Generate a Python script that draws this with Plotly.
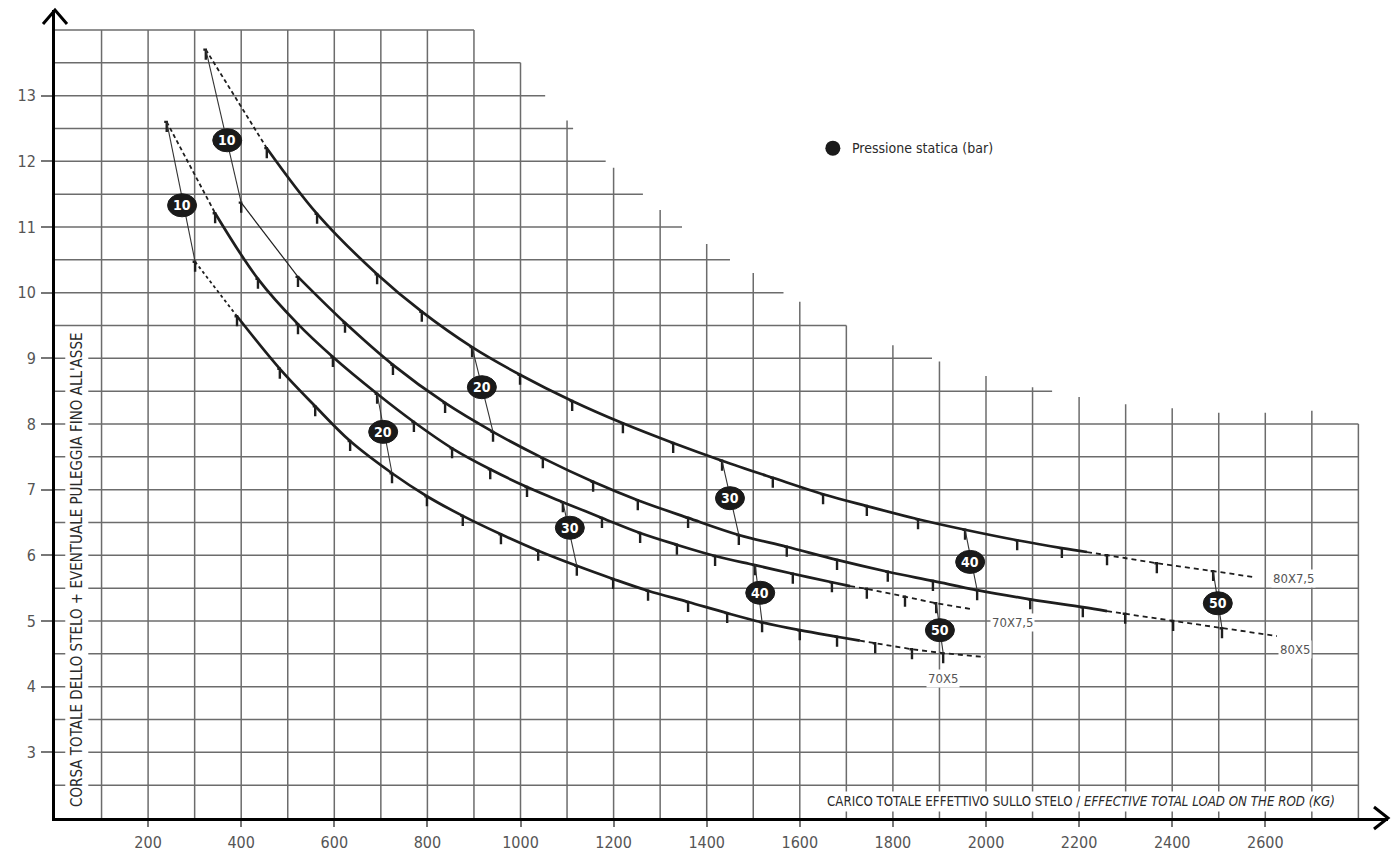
import plotly.graph_objects as go

# ---------------- data ----------------
# grid: vertical lines (kg) and the height (m) at which each one stops
GRID_X_KG = list(range(100, 2800, 100))
GRID_X_TOP_M = [14] * 9 + [13.5, 12.62, 11.9, 11.26, 10.74, 10.3, 9.86, 9.5, 9.2,
                           8.95, 8.73, 8.56, 8.41, 8.3, 8.24, 8.17, 8.17, 8.2]
GRID_BORDER_KG = 2800
GRID_BORDER_TOP_M = 8.0
# horizontal lines (m) and the load (kg) at which each one stops
GRID_Y_M = [2.5 + 0.5 * i for i in range(24)]
GRID_Y_END_KG = [2800] * 12 + [2142, 1884, 1700, 1565, 1450, 1347, 1263, 1183, 1113, 1053, 1000, 900]

X_TICKS = list(range(200, 2601, 200))
Y_TICKS = list(range(3, 14))

BAR = list(range(10, 51, 2))   # static pressure marks every 2 bar

C80X75_KG = [324, 455, 563, 692, 788, 896, 999, 1111, 1220, 1328, 1433, 1542, 1650, 1744, 1854,
             1955, 2067, 2163, 2260, 2367, 2488]
C80X75_M = [13.70, 12.20, 11.20, 10.28, 9.71, 9.17, 8.75, 8.35, 8.01, 7.71, 7.44, 7.18, 6.93, 6.75,
            6.55, 6.39, 6.23, 6.11, 6.00, 5.88, 5.76]
C80X75_SOLID_END = (2217, 6.05)
C80X75_LINE_END = (2574, 5.67)

C80X5_KG = [400, 522, 623, 726, 838, 941, 1048, 1156, 1252, 1360, 1469, 1572, 1680, 1789, 1886,
            1981, 2095, 2208, 2299, 2402, 2507]
C80X5_M = [11.37, 10.24, 9.54, 8.90, 8.32, 7.88, 7.48, 7.12, 6.84, 6.57, 6.31, 6.13, 5.93, 5.75,
           5.61, 5.47, 5.33, 5.21, 5.11, 5.00, 4.89]
C80X5_SOLID_END = (2260, 5.15)
C80X5_LINE_END = (2625, 4.77)

C70X75_KG = [240, 344, 436, 522, 597, 692, 771, 853, 935, 1014, 1091, 1175, 1257, 1336, 1418,
             1504, 1585, 1669, 1744, 1826, 1893]
C70X75_M = [12.60, 11.21, 10.21, 9.52, 9.02, 8.46, 8.03, 7.63, 7.31, 7.04, 6.81, 6.57, 6.34, 6.16,
            5.99, 5.85, 5.72, 5.59, 5.49, 5.37, 5.27]
C70X75_SOLID_END = (1708, 5.53)
C70X75_LINE_END = (1970, 5.18)

C70X5_KG = [301, 391, 483, 559, 634, 724, 799, 876, 958, 1038, 1121, 1199, 1274, 1360, 1444,
            1519, 1600, 1680, 1762, 1841, 1908]
C70X5_M = [10.47, 9.64, 8.84, 8.27, 7.74, 7.25, 6.90, 6.60, 6.32, 6.07, 5.84, 5.64, 5.46, 5.29,
           5.12, 4.98, 4.86, 4.76, 4.66, 4.57, 4.51]
C70X5_SOLID_END = (1729, 4.70)
C70X5_LINE_END = (1998, 4.45)

LABEL_BAR = [10, 20, 30, 40, 50]
LABEL80_KG = [370, 917, 1450, 1966, 2498]
LABEL80_M = [12.32, 8.56, 6.87, 5.90, 5.27]
LABEL70_KG = [273, 705, 1106, 1515, 1901]
LABEL70_M = [11.33, 7.88, 6.42, 5.43, 4.86]

CURVE_NAMES = ["80X7,5", "80X5", "70X7,5", "70X5"]
CURVE_NAME_KG = [2660, 2664, 2058, 1908]
CURVE_NAME_M = [5.65, 4.56, 4.97, 4.13]

LEGEND_TEXT = "Pressione statica (bar)"
LEGEND_KG, LEGEND_M = 1671, 12.20
Y_TITLE = "CORSA TOTALE DELLO STELO + EVENTUALE PULEGGIA FINO ALL'ASSE"
X_TITLE = "CARICO TOTALE EFFETTIVO SULLO STELO / <i>EFFECTIVE TOTAL LOAD ON THE ROD (KG)</i>"

# ---------------- styling / geometry ----------------
W, H = 1393, 855
ML, MR, MT, MB = 55, 5, 10, 37
X_MAX = 2863.6
Y_MIN, Y_MAX = 2.0, 14.304
PW, PH = W - ML - MR, H - MT - MB
PX_PER_KG = PW / X_MAX
PX_PER_M = PH / (Y_MAX - Y_MIN)
FONT = "Liberation Sans Narrow, DejaVu Sans Condensed, Roboto Condensed, Roboto, sans-serif"
INK = "#1e1e1e"
GRID = "#6c6c6c"

fig = go.Figure()

# grid
gx, gy = [], []
for x, top in zip(GRID_X_KG, GRID_X_TOP_M):
    gx += [x, x, None]
    gy += [Y_MIN, top, None]
gx += [GRID_BORDER_KG, GRID_BORDER_KG, None]
gy += [Y_MIN, GRID_BORDER_TOP_M, None]
for y, end in zip(GRID_Y_M, GRID_Y_END_KG):
    gx += [0, end, None]
    gy += [y, y, None]
fig.add_trace(go.Scatter(x=gx, y=gy, mode="lines", line=dict(color=GRID, width=1.5),
                         hoverinfo="skip"))

curves = [
    (C80X75_KG, C80X75_M, C80X75_SOLID_END, C80X75_LINE_END, "dash"),
    (C80X5_KG, C80X5_M, C80X5_SOLID_END, C80X5_LINE_END, "thin"),
    (C70X75_KG, C70X75_M, C70X75_SOLID_END, C70X75_LINE_END, "dash"),
    (C70X5_KG, C70X5_M, C70X5_SOLID_END, C70X5_LINE_END, "dot"),
]

tick_len_m = 10 / PX_PER_M
cap_kg = 2.5 / PX_PER_KG
tx, ty = [], []
for kg, m, s_end, l_end, head in curves:
    if head == "thin":
        hl = dict(color=INK, width=1.2)
    elif head == "dot":
        hl = dict(color=INK, width=1.8, dash="3px,3px")
    else:
        hl = dict(color=INK, width=1.8, dash="4px,3px")
    fig.add_trace(go.Scatter(x=kg[:2], y=m[:2], mode="lines", line=hl, hoverinfo="skip"))
    bx = [k for k in kg[1:] if k <= s_end[0]] + [s_end[0]]
    by = [v for k, v in zip(kg[1:], m[1:]) if k <= s_end[0]] + [s_end[1]]
    fig.add_trace(go.Scatter(x=bx, y=by, mode="lines",
                             line=dict(color=INK, width=2.7, shape="spline", smoothing=1.0),
                             hoverinfo="skip"))
    dx = [s_end[0]] + [k for k in kg if k > s_end[0]] + [l_end[0]]
    dy = [s_end[1]] + [v for k, v in zip(kg, m) if k > s_end[0]] + [l_end[1]]
    fig.add_trace(go.Scatter(x=dx, y=dy, mode="lines",
                             line=dict(color=INK, width=1.8, dash="5px,4px"),
                             hoverinfo="skip"))
    for k, v in zip(kg, m):
        tx += [k - cap_kg, k, k, None]
        ty += [v, v, v - tick_len_m, None]

fig.add_trace(go.Scatter(x=tx, y=ty, mode="lines", line=dict(color=INK, width=2.4),
                         hoverinfo="skip"))

# leader lines joining equal pressures
lx, ly = [], []
for b in LABEL_BAR:
    i = BAR.index(b)
    lx += [C80X75_KG[i], C80X5_KG[i], None, C70X75_KG[i], C70X5_KG[i], None]
    ly += [C80X75_M[i], C80X5_M[i], None, C70X75_M[i], C70X5_M[i], None]
fig.add_trace(go.Scatter(x=lx, y=ly, mode="lines", line=dict(color="#333333", width=1.1),
                         hoverinfo="skip"))

# legend dot
fig.add_trace(go.Scatter(x=[LEGEND_KG], y=[LEGEND_M], mode="markers",
                         marker=dict(size=15, color="#1a1a1a"), hoverinfo="skip"))

shapes = []
# axis arrowheads (paper coordinates, not clipped)
ya_dx, ya_dy = 12 / PW, 14 / PH
shapes.append(dict(type="path", xref="paper", yref="paper",
                   path="M %f,%f L 0,1 L %f,%f" % (-ya_dx, 1 - ya_dy, ya_dx, 1 - ya_dy),
                   line=dict(color="black", width=3)))
xa_dx, xa_dy = 14 / PW, 11 / PH
shapes.append(dict(type="path", xref="paper", yref="paper",
                   path="M %f,%f L 1,0 L %f,%f" % (1 - xa_dx, xa_dy, 1 - xa_dx, -xa_dy),
                   line=dict(color="black", width=3)))

annotations = []
ex = 14.5 / PX_PER_KG
ey = 11.5 / PX_PER_M
for kgs, ms in ((LABEL80_KG, LABEL80_M), (LABEL70_KG, LABEL70_M)):
    for b, k, v in zip(LABEL_BAR, kgs, ms):
        shapes.append(dict(type="circle", xref="x", yref="y", x0=k - ex, x1=k + ex,
                           y0=v - ey, y1=v + ey, fillcolor="#1a1a1a",
                           line=dict(color="#1a1a1a", width=1)))
        annotations.append(dict(x=k, y=v, xref="x", yref="y", text="<b>%d</b>" % b,
                                showarrow=False, font=dict(family=FONT, size=14, color="white")))

for name, k, v in zip(CURVE_NAMES, CURVE_NAME_KG, CURVE_NAME_M):
    annotations.append(dict(x=k, y=v, xref="x", yref="y", text=name, showarrow=False,
                            bgcolor="white", borderpad=1,
                            font=dict(family=FONT, size=13, color="#555555")))

annotations.append(dict(x=LEGEND_KG + 37, y=LEGEND_M, xref="x", yref="y", text=LEGEND_TEXT,
                        xanchor="left", showarrow=False,
                        font=dict(family=FONT, size=14, color="#2a2a2a")))

annotations.append(dict(x=47, y=5.79, xref="x", yref="y", text=Y_TITLE, textangle=-90,
                        showarrow=False, bgcolor="white", borderpad=2,
                        font=dict(family=FONT, size=15, color="#2a2a2a")))
annotations.append(dict(x=2756, y=2.244, xref="x", yref="y", text=X_TITLE, xanchor="right",
                        showarrow=False, bgcolor="white", borderpad=2,
                        font=dict(family=FONT, size=13.2, color="#2a2a2a")))
annotations.append(dict(x=-71, y=14.01, xref="x", yref="y", text="[m]", showarrow=False,
                        font=dict(family=FONT, size=16, color="#555555")))
annotations.append(dict(x=2746, y=1.68, xref="x", yref="y", text="[kg]", showarrow=False,
                        font=dict(family=FONT, size=16, color="#555555")))

fig.update_layout(
    width=W, height=H,
    margin=dict(l=ML, r=MR, t=MT, b=MB, pad=0, autoexpand=False),
    paper_bgcolor="white", plot_bgcolor="white",
    showlegend=False,
    shapes=shapes, annotations=annotations,
    xaxis=dict(range=[0, X_MAX], showgrid=False, zeroline=False, showline=True,
               linecolor="black", linewidth=3, ticks="outside", tickvals=X_TICKS,
               ticklen=6, tickwidth=1.5, tickcolor="#777777", ticklabelstandoff=2,
               automargin=False,
               tickfont=dict(family=FONT, size=16, color="#555555"), fixedrange=True),
    yaxis=dict(range=[Y_MIN, Y_MAX], showgrid=False, zeroline=False, showline=True,
               linecolor="black", linewidth=3, ticks="outside", tickvals=Y_TICKS,
               ticklen=11, tickwidth=1.5, tickcolor="#777777", ticklabelstandoff=2,
               automargin=False,
               tickfont=dict(family=FONT, size=16, color="#555555"), fixedrange=True),
)

fig.write_html("out.html", config={"displayModeBar": False},
               post_script="document.body.style.margin='0px';")
